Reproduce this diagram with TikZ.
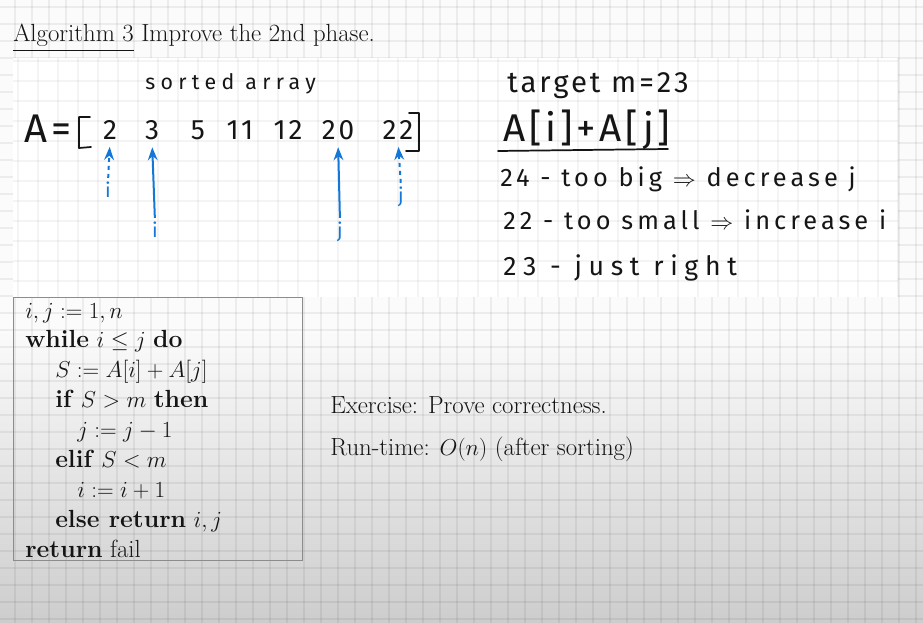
\documentclass[tikz,border=0pt]{standalone}
\usepackage{fontspec}
\usepackage{amsmath,amssymb}
\usetikzlibrary{arrows.meta}
\newfontfamily\hand[LetterSpace=10]{Fira Sans}
\newfontfamily\handmid[LetterSpace=16]{Fira Sans}
\newfontfamily\handwide[LetterSpace=25]{Fira Sans}
\definecolor{penblue}{HTML}{1477D8}
\definecolor{boxgray}{HTML}{8C8C8C}
\definecolor{bgtop}{HTML}{FBFBFB}
\definecolor{bgbot}{HTML}{CDCDCD}
\definecolor{ink}{HTML}{151515}

\begin{document}
\begin{tikzpicture}[x=0.75pt, y=-0.75pt, >={Stealth[]},
  every node/.style={inner sep=0pt},
  hw/.style={font=\hand\fontsize{19}{21}\selectfont, anchor=base west, ink},
  step line/.style={font=\handmid\fontsize{19}{21}\selectfont, anchor=base west, ink},
  num/.style={font=\hand\fontsize{21}{23}\selectfont, anchor=base, ink},
  plab/.style={font=\hand\fontsize{15}{16}\selectfont, penblue},
  algline/.style={font=\fontsize{18.6}{22}\selectfont, anchor=base west, ink},
  ptr/.style={->, penblue, line width=1.5pt, shorten >=5pt, shorten <=3pt},
  pen/.style={ink, line width=1.3pt, line cap=round, line join=round}]
\useasboundingbox (0,0) rectangle (923,623);
% paper
\fill[bgtop] (0,0) rectangle (923,623);
\shade[top color=bgtop, bottom color=bgbot] (0,330) rectangle (923,623);
\foreach \x in {-2,15,...,923} \draw[black, opacity=0.06, line width=0.8pt] (\x,0) -- (\x,623);
\foreach \y in {7,24,...,623} \draw[black, opacity=0.06, line width=0.8pt] (0,\y) -- (923,\y);
% whiteboard
\fill[white] (13,58) rectangle (898,297);
\foreach \x in {18,38,...,898} \draw[black, opacity=0.045, line width=0.8pt] (\x,58) -- (\x,297);
\foreach \y in {61,81,...,297} \draw[black, opacity=0.045, line width=0.8pt] (13,\y) -- (898,\y);

\node[algline] (title) at (13,42) {\underline{Algorithm 3} Improve the 2nd phase.};

% the array
\node[hw, font=\handwide\fontsize{16}{18}\selectfont] (sorted) at (145,90) {sorted array};
\node[hw, font=\hand\fontsize{30}{32}\selectfont] (lhs) at (24,143) {A=};
\draw[pen] (90,117) -- (79,117) -- (79,148) -- (91,147);
\draw[pen] (406,151) -- (419,151) -- (419,113) -- (409,113);
\foreach \v/\x [count=\k] in {2/110,3/152,5/198,11/240,12/288,20/338,22/398}
  \node[num] (a\k) at (\x,140) {\v};

% pointers
\node[plab] (p1) at (108,190) {i};
\node[plab] (p2) at (155,230) {i};
\node[plab] (p3) at (340,232) {j};
\node[plab] (p4) at (401,197) {j};
\draw[ptr, dashed] (p1.north) -- (a1.south);
\draw[ptr] (p2.north) -- (a2.south);
\draw[ptr] (p3.north) -- (a6.south);
\draw[ptr, dashed] (p4.north) -- (a7.south);

% target side
\node[hw, font=\hand\fontsize{22}{24}\selectfont] (target) at (507,93) {target m=23};
\node[hw, font=\hand\fontsize{29}{31}\selectfont] (sum) at (503,142) {A[i]+A[j]};
\draw[pen] (498,151) -- (668,149);
\node[step line] (big) at (500,187) {24 - too big $\Rightarrow$ decrease j};
\node[step line] (small) at (503,230) {22 - too small $\Rightarrow$ increase i};
\node[step line, font=\handwide\fontsize{20}{22}\selectfont] (right) at (503,276) {23 - just right};

% algorithm
\draw[boxgray, line width=0.7pt] (13,297) rectangle (302,560);
\foreach \ind/\txt [count=\k] in {
  25/{$i, j := 1, n$},
  25/{\textbf{while} $i \le j$ \textbf{do}},
  55/{$S := A[i] + A[j]$},
  55/{\textbf{if} $S > m$ \textbf{then}},
  77/{$j := j - 1$},
  55/{\textbf{elif} $S < m$},
  77/{$i := i + 1$},
  55/{\textbf{else return} $i, j$},
  25/{\textbf{return} fail}}
  \node[algline] (l\k) at (\ind,{288.1+29.9*\k}) {\txt};

\node[algline] (ex) at (330,413) {Exercise: Prove correctness.};
\node[algline] (rt) at (330,455) {Run-time: $O(n)$ (after sorting)};
\end{tikzpicture}
\end{document}
